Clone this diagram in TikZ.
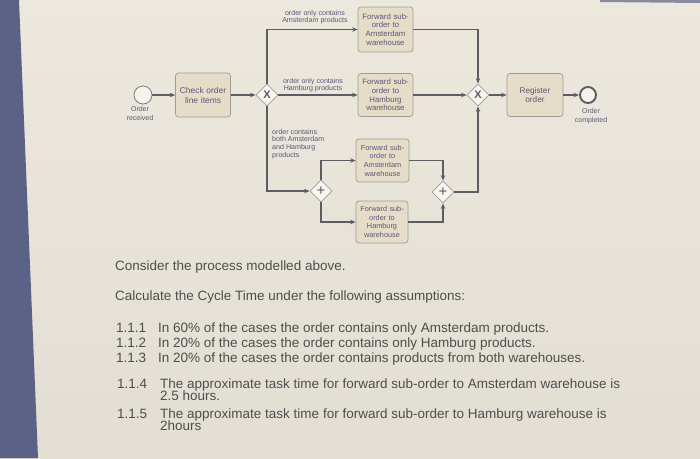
\documentclass[tikz,border=0pt]{standalone}
\usepackage{fontspec}
\setmainfont{Liberation Sans}
\usetikzlibrary{shapes.geometric,arrows.meta}
\definecolor{bgc}{HTML}{ECE8DD}
\definecolor{bgd}{HTML}{E2DED3}
\definecolor{bandc}{HTML}{5C6286}
\definecolor{boxfill}{HTML}{E6DDC8}
\definecolor{boxline}{HTML}{A09C94}
\definecolor{flowc}{HTML}{5C5C62}
\definecolor{dtext}{HTML}{5A5878}
\definecolor{qtext}{HTML}{4E4E50}
\begin{document}
\begin{tikzpicture}[x=1pt,y=-1pt,
  task/.style={draw=boxline,fill=boxfill,rounded corners=3pt,line width=0.7pt,align=center,
    text=dtext,inner sep=0pt,font=\fontsize{7.8}{8.8}\selectfont},
  gw/.style={diamond,draw=boxline,fill=white!60!bgc,line width=0.8pt,minimum size=22pt,inner sep=0pt,text=flowc},
  flow/.style={draw=flowc,line width=1.1pt,-{Stealth[length=5.5pt,width=4.5pt]}},
  lbl/.style={text=dtext,align=center,inner sep=0pt,font=\fontsize{7.1}{7.6}\selectfont},
  qline/.style={anchor=base west,text=qtext,inner sep=0pt,font=\fontsize{13.5}{15}\selectfont},
]
\useasboundingbox (0,0) rectangle (700,458);
\shade[top color=bgc,bottom color=bgd] (0,0) rectangle (700,458);
\fill[bandc] (0,0) -- (19,0) -- (38,458) -- (0,458) -- cycle;
\fill[bandc!70!bgc] (600,0) -- (700,0) -- (700,3) -- (600,2) -- cycle;

% events
\node[circle,draw=flowc!80,line width=0.8pt,fill=white!50!bgc,minimum size=18pt,inner sep=0pt] (start) at (143,95) {};
\node[lbl,font=\fontsize{7}{9}\selectfont] (startl) at (140,113) {Order\\received};
\node[circle,draw=flowc,line width=1.9pt,fill=white!50!bgc,minimum size=16pt,inner sep=0pt] (end) at (588,95) {};
\node[lbl,font=\fontsize{7}{9}\selectfont] (endl) at (591,116) {Order\\completed};

% tasks
\node[task,minimum width=55pt,minimum height=44pt,text width=52pt,font=\fontsize{8.4}{10}\selectfont] (check) at (203,95) {Check order\\line items};
\node[task,minimum width=55pt,minimum height=45pt,text width=54pt] (amsT) at (385.5,29.5) {Forward sub-\\order to\\Amsterdam\\warehouse};
\node[task,minimum width=55pt,minimum height=43pt,text width=54pt] (hamM) at (385.5,95) {Forward sub-\\order to\\Hamburg\\warehouse};
\node[task,minimum width=53pt,minimum height=43pt,text width=52pt,font=\fontsize{7.3}{8.6}\selectfont] (amsB) at (382.5,160.5) {Forward sub-\\order to\\Amsterdam\\warehouse};
\node[task,minimum width=52pt,minimum height=42pt,text width=51pt,font=\fontsize{7.3}{8.6}\selectfont] (hamB) at (382,222) {Forward sub-\\order to\\Hamburg\\warehouse};
\node[task,minimum width=56pt,minimum height=43pt,text width=52pt,font=\fontsize{8.2}{9.6}\selectfont] (reg) at (535,95) {Register\\order};

% gateways
\node[gw] (xs) at (267,95) {\fontsize{11}{11}\selectfont\bfseries X};
\node[gw] (ands) at (321,191) {\fontsize{15}{15}\selectfont +};
\node[gw] (andj) at (443,192) {\fontsize{15}{15}\selectfont +};
\node[gw] (xj) at (478,95) {\fontsize{11}{11}\selectfont\bfseries X};

% flows
\draw[flow] (start) -- (check);
\draw[flow] (check) -- (xs);
\draw[flow] (xs.north) |- (amsT.west);
\draw[flow] (xs) -- (hamM);
\draw[flow] (xs.south) |- (ands.west);
\draw[flow] (ands.north) |- (amsB.west);
\draw[flow] (ands.south) |- (hamB.west);
\draw[flow] (amsB.east) -| (andj.north);
\draw[flow] (hamB.east) -| (andj.south);
\draw[flow] (andj.east) -| (xj.south);
\draw[flow] (amsT.east) -| (xj.north);
\draw[flow] (hamM) -- (xj);
\draw[flow] (xj) -- (reg);
\draw[flow] (reg) -- (end);

% flow labels
\node[lbl] (l1) at (315,17) {order only contains\\Amsterdam products};
\node[lbl] (l2) at (313,85) {order only contains\\Hamburg products};
\node[lbl,align=left,anchor=north west] (l3) at (272,129) {order contains\\both Amsterdam\\and Hamburg\\products};

% question text
\node[qline] (q1) at (115,270) {Consider the process modelled above.};
\node[qline] (q2) at (115,300) {Calculate the Cycle Time under the following assumptions:};
\node[qline] (n1) at (116,332) {1.1.1};
\node[qline] (t1) at (158,332) {In 60\% of the cases the order contains only Amsterdam products.};
\node[qline] (n2) at (116,347) {1.1.2};
\node[qline] (t2) at (158,347) {In 20\% of the cases the order contains only Hamburg products.};
\node[qline] (n3) at (116,362) {1.1.3};
\node[qline] (t3) at (158,362) {In 20\% of the cases the order contains products from both warehouses.};
\node[qline] (n4) at (117,388) {1.1.4};
\node[qline] (t4) at (160,388) {The approximate task time for forward sub-order to Amsterdam warehouse is};
\node[qline] (t4b) at (160,400) {2.5 hours.};
\node[qline] (n5) at (117,418) {1.1.5};
\node[qline] (t5) at (160,418) {The approximate task time for forward sub-order to Hamburg warehouse is};
\node[qline] (t5b) at (160,430) {2hours};
\end{tikzpicture}
\end{document}
